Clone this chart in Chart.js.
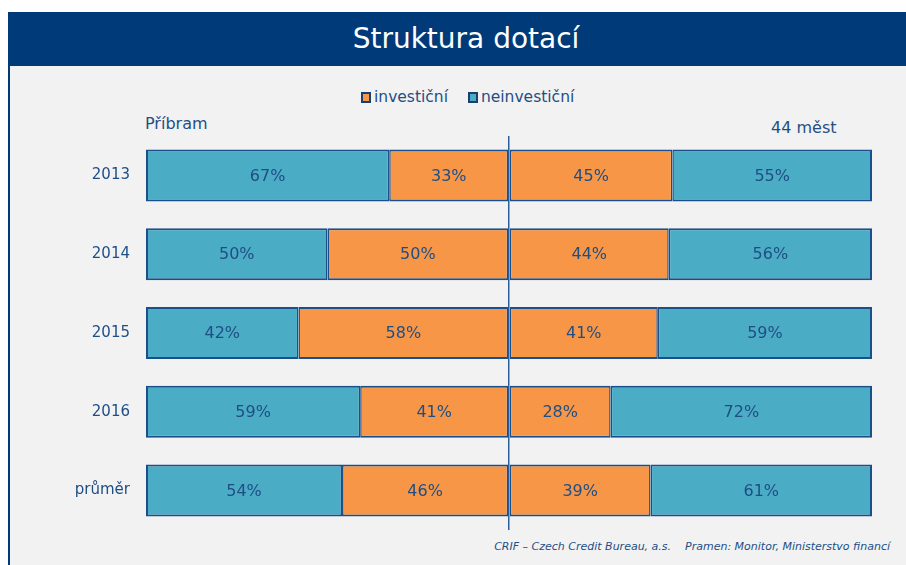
<!DOCTYPE html>
<html>
<head>
<meta charset="utf-8">
<script src="https://cdn.jsdelivr.net/npm/chart.js@4"></script>
<style>
  html, body { margin: 0; padding: 0; background: #fff; }
  body { width: 906px; height: 565px; position: relative; overflow: hidden; font-family: "DejaVu Sans", Verdana, sans-serif; }
  .header { position: absolute; left: 8px; top: 12px; width: 898px; height: 54px; background: #003a78; }
  .header h1 { position: absolute; left: 0; width: 916px; top: 10px; margin: 0; text-align: center; color: #fff; font-weight: normal; font-size: 28px; }
  .panel { position: absolute; left: 8px; top: 66px; width: 898px; height: 499px; background: #f2f2f2; border-left: 2px solid #003a78; box-sizing: border-box; }
  .legend { position: absolute; top: 88px; left: 361px; color: #1f4e85; font-size: 15.5px; display: flex; gap: 20px; }
  .legend span { display: inline-flex; align-items: center; }
  .legend i { display: inline-block; width: 6px; height: 7px; border: 2px solid #1b3f6e; margin-right: 3px; }
  .side { position: absolute; color: #1f4e85; font-size: 16px; }
  .foot { position: absolute; right: 16px; top: 540px; color: #1f4e85; font-size: 11px; font-style: italic; white-space: pre; }
  #c { position: absolute; left: 0; top: 0; }
</style>
</head>
<body>
<div class="header"><h1>Struktura dotací</h1></div>
<div class="panel"></div>
<div class="legend" id="legend"></div>
<div class="side" style="left:145px; top:114px;">Příbram</div>
<div class="side" style="left:771px; top:118px;">44 měst</div>
<div class="foot">CRIF – Czech Credit Bureau, a.s.    Pramen: Monitor, Ministerstvo financí</div>
<canvas id="c" width="906" height="565"></canvas>
<script>
const categories = ['2013', '2014', '2015', '2016', 'průměr'];
const seriesNames = ['investiční', 'neinvestiční'];
const pribramInvest = [33, 50, 58, 41, 46];
const pribramNoninvest = [67, 50, 42, 59, 54];
const mestaInvest = [45, 44, 41, 28, 39];
const mestaNoninvest = [55, 56, 59, 72, 61];

const orange = '#f79646';
const blue = '#4bacc6';
const edge = '#1b4f8a';
const textColor = '#1f4e85';

// legend
document.getElementById('legend').innerHTML =
  '<span><i style="background:' + orange + '"></i>' + seriesNames[0] + '</span>' +
  '<span><i style="background:' + blue + '"></i>' + seriesNames[1] + '</span>';

// outer segments keep a full 2px edge at the outer end, shared edges are thinner
function ds(label, values, color, sign, outer) {
  return {
    label: label,
    data: values.map(v => v * sign),
    backgroundColor: color,
    borderColor: edge,
    borderWidth: {
      top: 2, bottom: 2,
      left: outer && sign < 0 ? 2 : 1.5,
      right: outer && sign > 0 ? 2 : 1.5
    },
    borderSkipped: false,
    categoryPercentage: 1,
    barPercentage: 0.66
  };
}

const valueLabels = {
  id: 'valueLabels',
  afterDatasetsDraw(chart) {
    const ctx = chart.ctx;
    ctx.save();
    ctx.font = '16px "DejaVu Sans", Verdana, sans-serif';
    ctx.fillStyle = textColor;
    ctx.textAlign = 'center';
    ctx.textBaseline = 'middle';
    chart.data.datasets.forEach((d, i) => {
      chart.getDatasetMeta(i).data.forEach((bar, j) => {
        const p = bar.getProps(['x', 'y', 'base'], true);
        ctx.fillText(Math.abs(d.data[j]) + '%', (p.x + p.base) / 2, p.y + 1);
      });
    });
    ctx.restore();
  }
};

new Chart(document.getElementById('c'), {
  type: 'bar',
  data: {
    labels: categories,
    datasets: [
      ds('Příbram ' + seriesNames[0], pribramInvest, orange, -1, false),
      ds('Příbram ' + seriesNames[1], pribramNoninvest, blue, -1, true),
      ds('44 měst ' + seriesNames[0], mestaInvest, orange, 1, false),
      ds('44 měst ' + seriesNames[1], mestaNoninvest, blue, 1, true)
    ]
  },
  options: {
    indexAxis: 'y',
    responsive: false,
    animation: false,
    layout: { padding: { left: 0, right: 34, top: 136, bottom: 35 } },
    plugins: { legend: { display: false }, tooltip: { enabled: false } },
    scales: {
      x: {
        stacked: true,
        min: -100,
        max: 100,
        ticks: { display: false, stepSize: 50 },
        border: { display: false },
        grid: {
          drawTicks: false,
          lineWidth: 1.5,
          color: c => c.tick && c.tick.value === 0 ? '#2c5e9c' : 'transparent'
        }
      },
      y: {
        stacked: true,
        afterFit: s => { s.width = 146; },
        border: { display: false },
        grid: { display: false, drawTicks: false },
        ticks: {
          color: textColor,
          padding: 16,
          font: { family: '"DejaVu Sans", Verdana, sans-serif', size: 15 }
        }
      }
    }
  },
  plugins: [valueLabels]
});
</script>
</body>
</html>
